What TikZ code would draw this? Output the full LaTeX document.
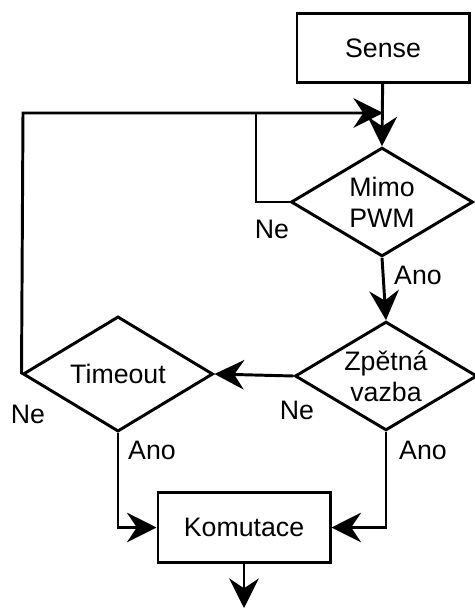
\documentclass[tikz,border=0pt]{standalone}
\usepackage{fontspec}
\setmainfont{Liberation Sans}
\usetikzlibrary{shapes.geometric,arrows.meta}
\tikzset{>={Stealth[length=21pt,width=21pt,inset=7pt]}}
\tikzset{
  box/.style={draw,line width=2.1pt,rectangle,minimum width=4.3cm,minimum height=1.73cm,inner sep=0pt},
  decision/.style={draw,line width=2.1pt,diamond,minimum width=4.55cm,minimum height=2.72cm,inner sep=0pt},
  txt/.style={inner sep=0pt,align=center,font=\fontsize{19}{22}\selectfont},
  lbl/.style={inner sep=0pt}
}

\begin{document}
\begin{tikzpicture}[x=0.025cm,y=-0.025cm,line width=2.1pt,font=\fontsize{19}{22}\selectfont]
      \useasboundingbox (0,0) rectangle (474,610);
      \node[box] (sense) at (383,48) {Sense};
      \node[decision] (mimo) at (382,202) {};
      \node[txt] (mimotxt) at (mimo) {Mimo\\PWM};
      \node[decision] (zpetna) at (386,376) {};
      \node[txt] (zpetnatxt) at (zpetna) {Zpětná\\vazba};
      \node[decision,minimum width=4.75cm] (timeout) at (118,374) {Timeout};
      \node[box] (komutace) at (244,527.5) {Komutace};
      \coordinate (join) at (383,113);
      \coordinate (out) at (244,608);
      \draw[->] (sense) -- (mimo.north);
      \draw[->] (timeout.west) -- (23,113) -- (join);
      \draw (mimo.west) -- (256,202) -- (256,113);
      \draw[->] (mimo.south) -- (zpetna.north);
      \draw[->] (zpetna.west) -- (timeout.east);
      \draw[->] (timeout.south) |- (komutace.west);
      \draw[->] (zpetna.south) |- (komutace.east);
      \draw[->] (komutace.south) -- (out);
      \node[lbl] (ne1) at (272,229) {Ne};
      \node[lbl] (ano1) at (418,275) {Ano};
      \node[lbl] (ne2) at (297,410) {Ne};
      \node[lbl] (ne3) at (28,414) {Ne};
      \node[lbl] (ano2) at (152,450) {Ano};
      \node[lbl] (ano3) at (423,450) {Ano};
    \end{tikzpicture}
\end{document}
